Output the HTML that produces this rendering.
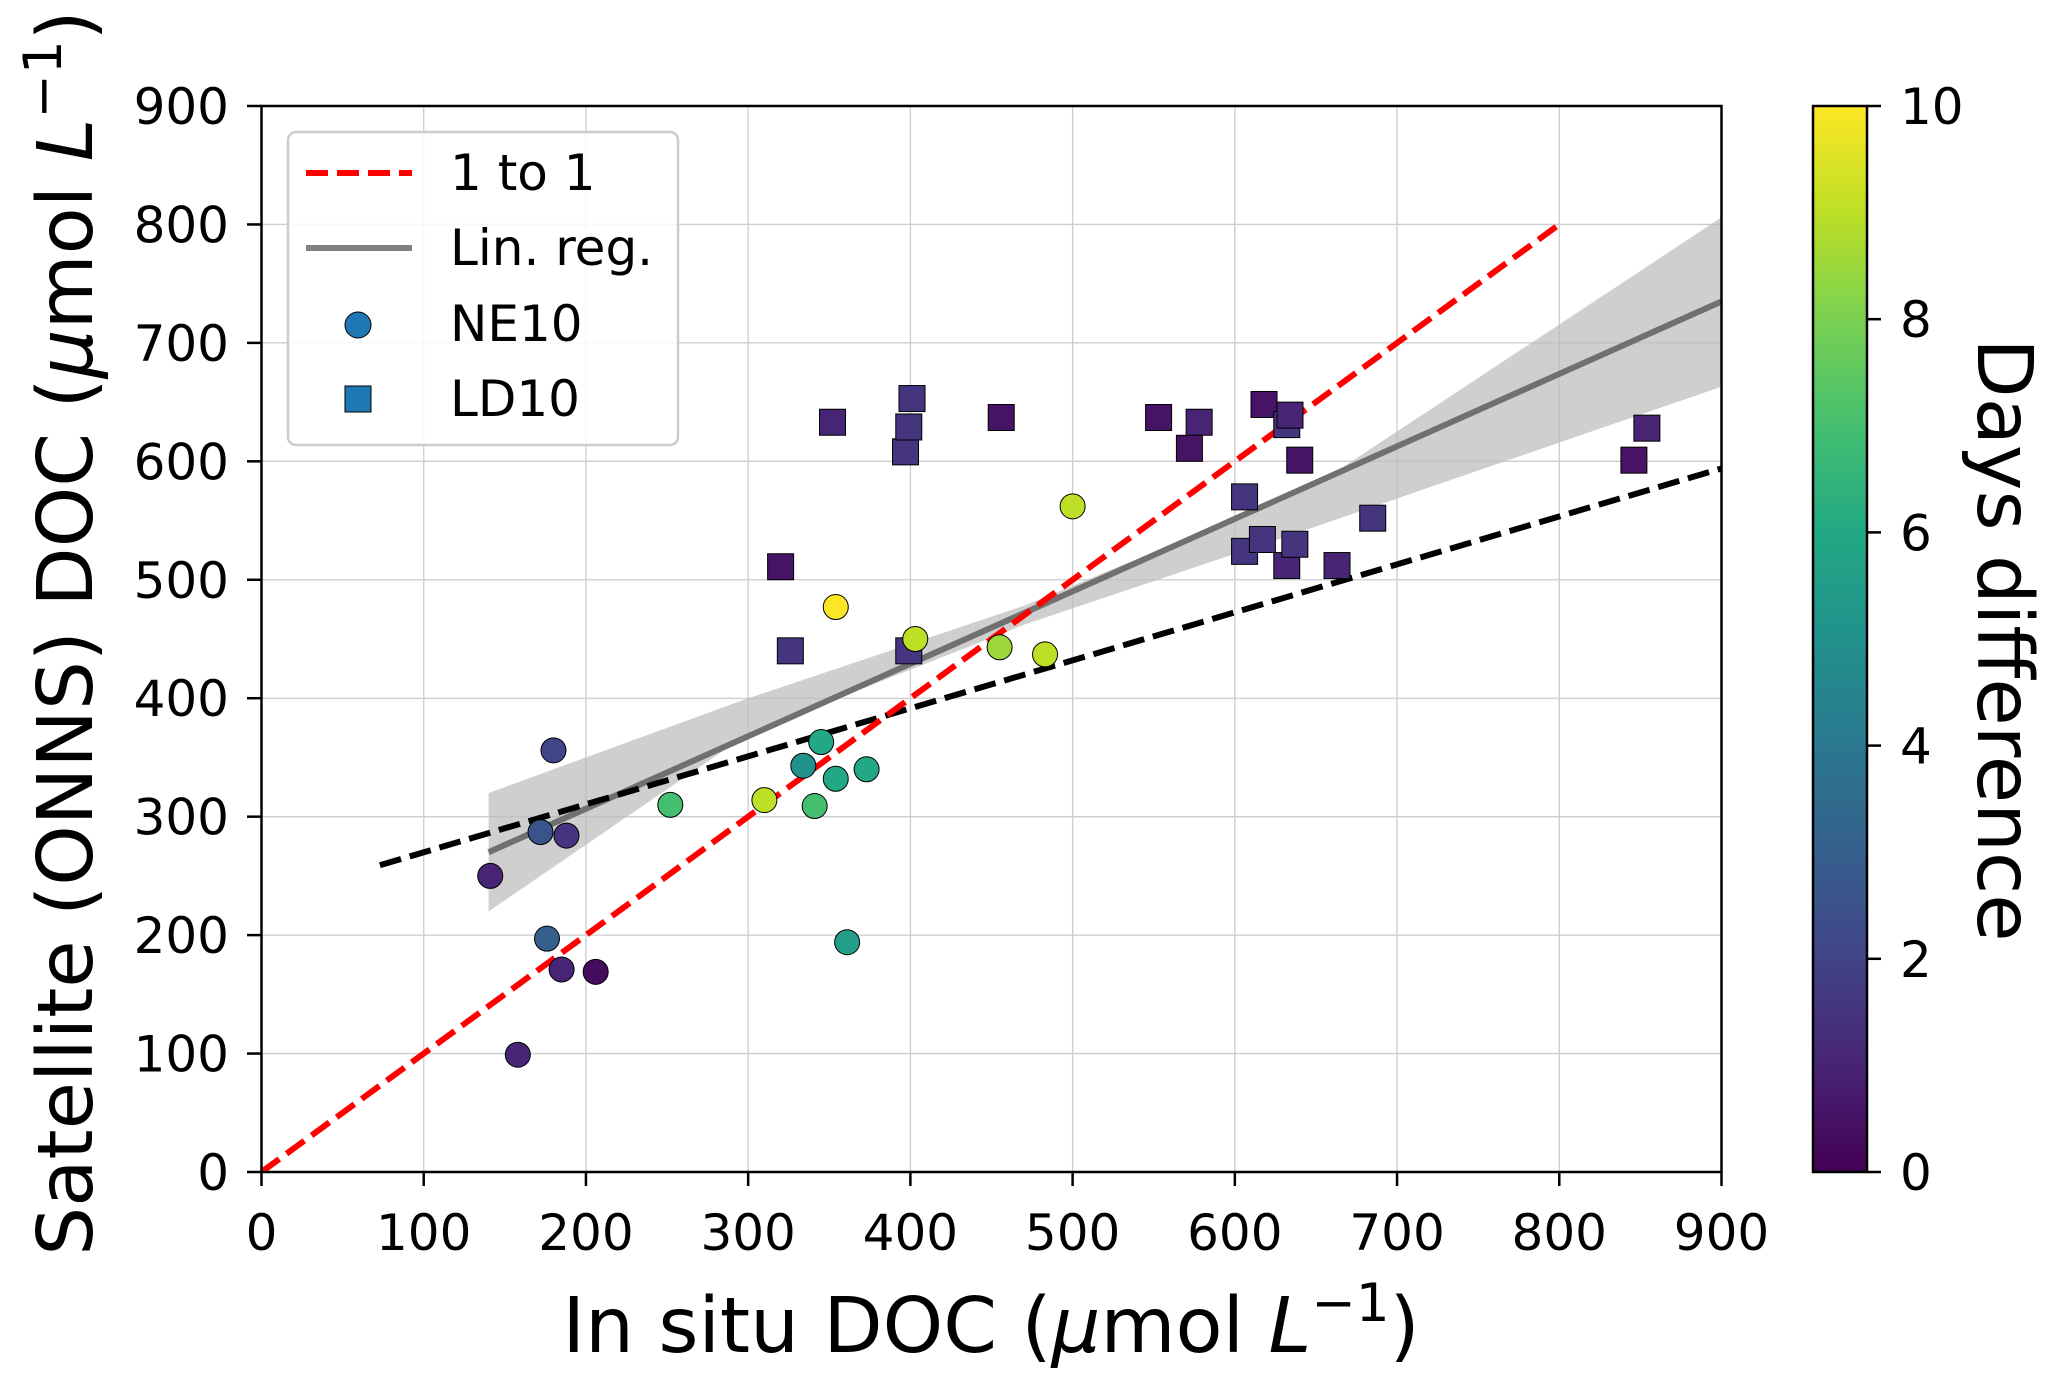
<!DOCTYPE html>
<html><head><meta charset="utf-8"><style>
body{margin:0;background:#fff}
svg{display:block;font-family:"DejaVu Sans","Liberation Sans",sans-serif}
</style></head><body>
<svg id="chart" width="2067" height="1387" viewBox="0 0 2067 1387" xmlns="http://www.w3.org/2000/svg">
<defs>
<linearGradient id="vir" x1="0" y1="1" x2="0" y2="0">
<stop offset="0" stop-color="#440154"/><stop offset="0.1" stop-color="#482475"/><stop offset="0.2" stop-color="#414487"/><stop offset="0.3" stop-color="#355f8d"/><stop offset="0.4" stop-color="#2a788e"/><stop offset="0.5" stop-color="#21918c"/><stop offset="0.6" stop-color="#22a884"/><stop offset="0.7" stop-color="#44bf70"/><stop offset="0.8" stop-color="#7ad151"/><stop offset="0.9" stop-color="#bddf26"/><stop offset="1" stop-color="#fde725"/>
</linearGradient>
<clipPath id="pc"><rect x="261.5" y="106" width="1460" height="1066"/></clipPath>
</defs>
<g id="grid"></g>
<g id="lines" clip-path="url(#pc)"></g>
<g id="marks"></g>
<rect x="261.5" y="106" width="1460" height="1066" fill="none" stroke="#000" stroke-width="2.5"/>
<g id="ticks"></g>
<text x="991" y="1352" font-size="77" text-anchor="middle">In situ DOC (<tspan font-style="italic">μ</tspan>mol <tspan font-style="italic">L</tspan><tspan font-size="53" dy="-31">−1</tspan><tspan dy="31">)</tspan></text>
<text transform="translate(92,633) rotate(-90)" font-size="77" text-anchor="middle">Satellite (ONNS) DOC (<tspan font-style="italic">μ</tspan>mol <tspan font-style="italic">L</tspan><tspan font-size="53" dy="-31">−1</tspan><tspan dy="31">)</tspan></text>
<g>
<rect x="288" y="132" width="390" height="313" rx="8" fill="#fff" fill-opacity="0.85" stroke="#ccc" stroke-width="2.5"/>
<line x1="306" y1="173" x2="412" y2="173" stroke="#f00" stroke-width="6" stroke-dasharray="22,9"/>
<text x="450" y="190" font-size="50">1 to 1</text>
<line x1="306" y1="248" x2="412" y2="248" stroke="#808080" stroke-width="6"/>
<text x="450" y="265" font-size="50">Lin. reg.</text>
<circle cx="358" cy="325" r="13" fill="#1f77b4" stroke="#000" stroke-width="1"/>
<text x="450" y="341" font-size="50">NE10</text>
<rect x="345" y="386" width="26" height="26" fill="#1f77b4" stroke="#000" stroke-width="1"/>
<text x="450" y="416" font-size="50">LD10</text>
</g>
<rect x="1813" y="106" width="54" height="1066" fill="url(#vir)" stroke="#000" stroke-width="2.5"/>
<g id="cbticks"></g>
<text transform="translate(1978,640) rotate(90)" font-size="77" text-anchor="middle">Days difference</text>
</svg>
<script>
const xTicks=[0,100,200,300,400,500,600,700,800,900];
const yTicks=[0,100,200,300,400,500,600,700,800,900];
const cbTicks=[0,2,4,6,8,10];
const neX=[141,158,172,180,176,188,185,206,252,310,334,341,345,354,373,361,354,403,455,483,500];
const neY=[250,99,287,356,197,284,171,169,310,314,343,309,363,332,340,194,477,450,443,437,562];
const neD=[1,1,2.5,2,3,1.5,1,0.3,7,9,5,7,6,6,6,5.5,10,9,8.5,9,9];
const ldX=[320,326,352,397,399,401,399,456,553,578,572,606,606,618,617,632,634,632,637,640,663,685,846,854];
const ldY=[511,440,633,608,629,653,440,637,637,633,611,570,524,648,534,631,639,512,530,601,512,552,601,628];
const ldD=[0.5,1.5,1,1.5,1.5,1.5,1.5,0.5,0.5,1,0.5,1.5,1.5,0.5,1.5,1.5,1,1,1.5,0.5,1,1.5,0.5,1];
const oneToOne=[[0,0],[800,800]];
const fitLine=[[73,259],[900,594]];
const regLine=[[140,270],[900,735]];
const ciX=[140,300,470,650,900];
const ciLo=[220,370,462,545,663];
const ciHi=[320,400,478,580,806];

const NS='http://www.w3.org/2000/svg';
const X=v=>261.5+v*1460/900, Y=v=>1172-v*1066/900, C=v=>1172-v*1066/10;
const stops=[[68,1,84],[72,36,117],[65,68,135],[53,95,141],[42,120,142],[33,145,140],[34,168,132],[68,191,112],[122,209,81],[189,223,38],[253,231,37]];
function vir(d){let t=Math.max(0,Math.min(1,d/10))*10,i=Math.min(9,Math.floor(t)),f=t-i,a=stops[i],b=stops[i+1];
return 'rgb('+a.map((c,k)=>Math.round(c+(b[k]-c)*f)).join(',')+')';}
function mk(tag,at,parent){const e=document.createElementNS(NS,tag);for(const k in at)e.setAttribute(k,at[k]);parent.appendChild(e);return e;}
const grid=document.getElementById('grid'),ticks=document.getElementById('ticks');
xTicks.forEach(v=>{
 const g=mk('line',{x1:X(v),x2:X(v),y1:106,y2:1172,stroke:'#ccc','stroke-width':1.3},grid);
 
 
 const t=mk('line',{x1:X(v),x2:X(v),y1:1172,y2:1186,stroke:'#000','stroke-width':2.5},ticks);
 
 
 const l=mk('text',{x:X(v),y:1250,'font-size':50,'text-anchor':'middle'},ticks);l.textContent=v;
 
 
});
yTicks.forEach(v=>{
 const g=mk('line',{x1:261.5,x2:1721.5,y1:Y(v),y2:Y(v),stroke:'#ccc','stroke-width':1.3},grid);
 
 
 const t=mk('line',{x1:247,x2:261.5,y1:Y(v),y2:Y(v),stroke:'#000','stroke-width':2.5},ticks);
 
 
 const l=mk('text',{x:229,y:Y(v)+18,'font-size':50,'text-anchor':'end'},ticks);l.textContent=v;
 
 
});
const cb=document.getElementById('cbticks');
cbTicks.forEach(v=>{
 const t=mk('line',{x1:1867,x2:1881,y1:C(v),y2:C(v),stroke:'#000','stroke-width':2.5},cb);
 
 
 const l=mk('text',{x:1900,y:C(v)+18,'font-size':50},cb);l.textContent=v;
 
 
});
const L=document.getElementById('lines');
let pts=ciX.map((x,i)=>X(x)+','+Y(ciHi[i]));
for(let i=ciX.length-1;i>=0;i--)pts.push(X(ciX[i])+','+Y(ciLo[i]));
const band=mk('polygon',{points:pts.join(' '),fill:'#bbb','fill-opacity':0.7},L);


const reg=mk('line',{x1:X(regLine[0][0]),y1:Y(regLine[0][1]),x2:X(regLine[1][0]),y2:Y(regLine[1][1]),stroke:'#707070','stroke-width':6},L);


const fit=mk('line',{x1:X(fitLine[0][0]),y1:Y(fitLine[0][1]),x2:X(fitLine[1][0]),y2:Y(fitLine[1][1]),stroke:'#000','stroke-width':6,'stroke-dasharray':'22,9'},L);


const red=mk('line',{x1:X(oneToOne[0][0]),y1:Y(oneToOne[0][1]),x2:X(oneToOne[1][0]),y2:Y(oneToOne[1][1]),stroke:'#f00','stroke-width':6,'stroke-dasharray':'22,9'},L);


const M=document.getElementById('marks');
ldX.forEach((x,i)=>{
 const r=mk('rect',{x:X(x)-13,y:Y(ldY[i])-13,width:26,height:26,fill:vir(ldD[i]),stroke:'#000','stroke-width':1},M);
 
 
});
neX.forEach((x,i)=>{
 const c=mk('circle',{cx:X(x),cy:Y(neY[i]),r:12.5,fill:vir(neD[i]),stroke:'#000','stroke-width':1},M);
 
 
});
</script>
</body></html>
